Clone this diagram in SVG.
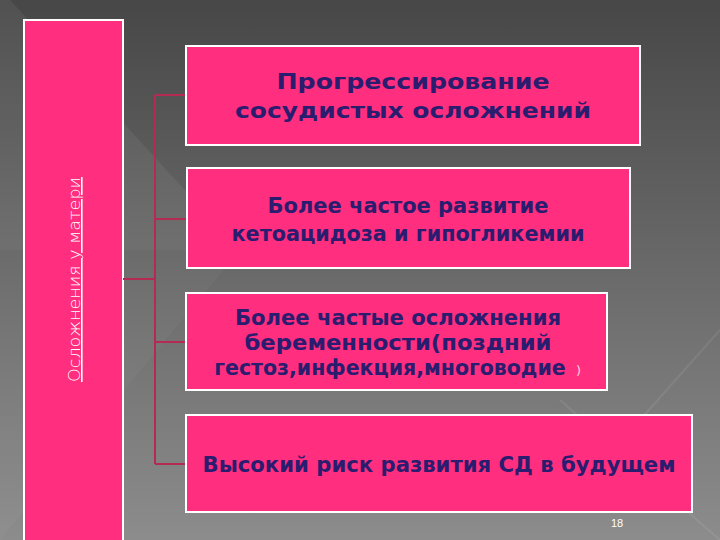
<svg xmlns="http://www.w3.org/2000/svg" width="720" height="540" viewBox="0 0 720 540">
<defs>
<linearGradient id="bg" x1="0" y1="0" x2="0" y2="1">
<stop offset="0" stop-color="#474747"/>
<stop offset="1" stop-color="#8c8c8c"/>
</linearGradient>
<style>
.box{fill:#ff2e7e;stroke:#ffffff;stroke-width:2}
.t{font-family:"DejaVu Sans",sans-serif;font-weight:bold;font-size:22px;fill:#2a1c6e;text-anchor:middle}
.c{fill:none;stroke:#b52a52;stroke-width:2}
</style>
</defs>
<rect width="720" height="540" fill="url(#bg)"/>
<polygon points="0,0 10,0 240,250 0,250" fill="#ffffff" opacity="0.06"/>
<polygon points="0,250 240,250 0,540" fill="#ffffff" opacity="0.03"/>
<path d="M560,400 L720,540 M720,330 L640,420" stroke="#ffffff" stroke-opacity="0.08" stroke-width="2" fill="none"/>
<g id="side">
<rect x="24" y="20" width="99" height="522" class="box"/>
<text transform="translate(80,382) rotate(-90)" font-family="'DejaVu Sans',sans-serif" font-weight="200" font-size="16" fill="#ffffff" text-decoration="underline" textLength="205" lengthAdjust="spacingAndGlyphs">Осложнения у матери</text>
</g>
<g id="connectors">
<path class="c" d="M123,279 H155 M155,95 V464 M155,95 H186 M155,219 H187 M155,342 H186 M155,464 H186"/>
</g>
<g id="n1">
<rect x="186" y="46" width="454" height="99" class="box"/>
<text class="t" x="413" y="89" textLength="273" lengthAdjust="spacingAndGlyphs">Прогрессирование</text>
<text class="t" x="413" y="118" textLength="356" lengthAdjust="spacingAndGlyphs">сосудистых осложнений</text>
</g>
<g id="n2">
<rect x="187" y="168" width="443" height="100" class="box"/>
<text class="t" x="408" y="213" textLength="281" lengthAdjust="spacingAndGlyphs">Более частое развитие</text>
<text class="t" x="408" y="241" textLength="353" lengthAdjust="spacingAndGlyphs">кетоацидоза и гипогликемии</text>
</g>
<g id="n3">
<rect x="186" y="293" width="421" height="97" class="box"/>
<text class="t" x="398" y="325" textLength="326" lengthAdjust="spacingAndGlyphs">Более частые осложнения</text>
<text class="t" x="398" y="350" textLength="307" lengthAdjust="spacingAndGlyphs">беременности(поздний</text>
<text class="t" x="390" y="375" style="font-size:20.5px">гестоз,инфекция,многоводие</text>
<text x="576" y="375" font-family="'DejaVu Sans',sans-serif" font-size="13" fill="#ffd0e0">)</text>
</g>
<g id="n4">
<rect x="186" y="415" width="506" height="97" class="box"/>
<text class="t" x="439" y="472" textLength="473" lengthAdjust="spacingAndGlyphs">Высокий риск развития СД в будущем</text>
</g>
<text x="617" y="527" font-family="'Liberation Sans',sans-serif" font-size="11" fill="#ffffff" text-anchor="middle">18</text>
</svg>
